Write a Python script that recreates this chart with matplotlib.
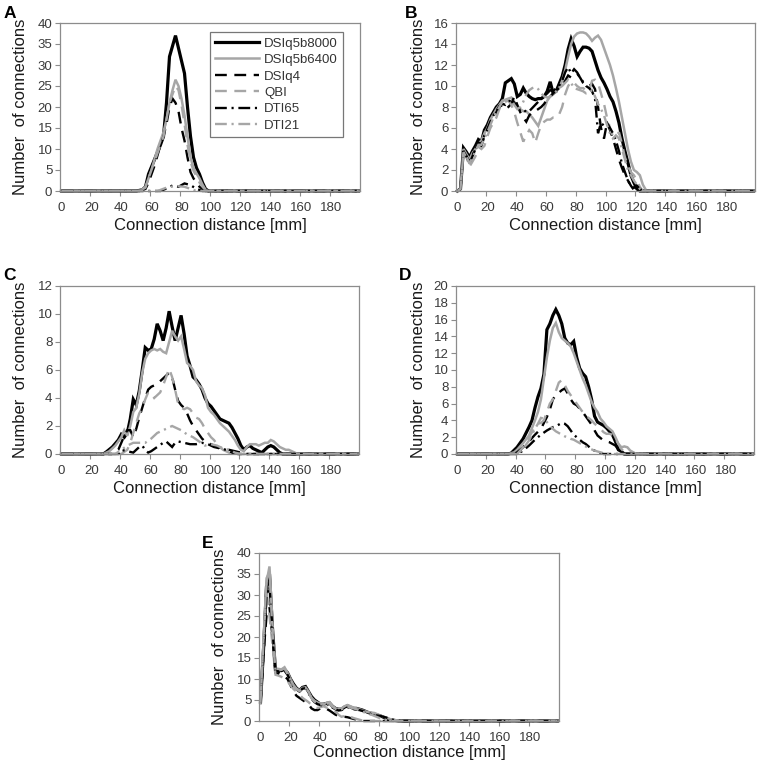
import matplotlib
matplotlib.use("Agg")
import matplotlib.pyplot as plt
import numpy as np

plt.rcParams['font.family'] = ['Liberation Sans', 'DejaVu Sans']

series_names = ["DSIq5b8000", "DSIq5b6400", "DSIq4", "QBI", "DTI65", "DTI21"]
x_tick_labels = [0, 20, 40, 60, 80, 100, 120, 140, 160, 180]

# ---------------- Panel A ----------------
A_dsi8000 = [(0,0),(50,0),(54,0.3),(56,1),(58,4),(62,7.5),(66,11),(68,13),(70,21),(72,32),(74,34.5),(76,37),(78,34),(80,31),(82,28),(84,20),(86,13),(88,8),(90,5.5),(92,4),(94,2),(96,0.5),(98,0),(198,0)]
A_dsi6400 = [(0,0),(50,0),(54,0.3),(56,1),(60,5),(64,10),(68,14),(70,17),(72,21),(74,24),(76,26.5),(78,25),(80,22),(82,18),(84,13),(86,8),(88,5.5),(90,4.2),(92,3),(94,1.5),(96,0.3),(98,0),(198,0)]
A_dsiq4 = [(0,0),(52,0),(56,0.5),(58,2),(62,6),(66,11),(68,13),(70,16),(72,20),(74,22),(76,21),(78,19),(80,15),(82,12),(84,8),(86,4.5),(88,3),(90,2),(92,1),(94,0.5),(96,0),(198,0)]
A_qbi = [(0,0),(52,0),(56,0.8),(58,3),(62,7),(66,11),(68,13),(70,17),(72,21),(74,23),(76,25),(78,24),(80,20.5),(82,16),(84,11),(86,7),(88,4.8),(90,3.5),(92,2),(94,1),(96,0.2),(98,0),(198,0)]
A_dti65 = [(0,0),(66,0),(70,0.6),(74,1.3),(78,1),(82,1.8),(86,1.4),(90,0.5),(94,0),(198,0)]
A_dti21 = [(0,0),(64,0),(70,0.8),(76,1.2),(82,1),(86,0.5),(90,0),(198,0)]

# ---------------- Panel B ----------------
B_dsi8000 = [(0,0),(2,0.2),(4,4.1),(6,3.7),(8,3.2),(10,3.8),(12,4.3),(14,4.9),(16,4.7),(18,5.8),(20,6.3),(22,7),(24,7.5),(26,8),(28,8.3),(30,8.8),(32,10.3),(34,10.5),(36,10.7),(38,10.2),(40,9),(42,9.2),(44,9.8),(46,9.3),(48,9),(50,8.8),(52,8.7),(54,8.8),(56,8.8),(58,9),(60,9.5),(62,10.4),(64,9.3),(66,9.5),(68,10.2),(70,10.9),(72,12),(74,13.5),(76,14.5),(78,13.8),(80,12.8),(82,13.3),(84,13.7),(86,13.7),(88,13.6),(90,13.3),(92,12.4),(94,11.5),(96,10.8),(98,10.3),(100,9.7),(102,9),(104,8.5),(106,7.6),(108,6.5),(110,5),(112,3.8),(114,2.7),(116,1.5),(118,0.8),(120,0.2),(122,0),(198,0)]
B_dsi6400 = [(0,0),(2,0.2),(4,4),(6,3.5),(8,3),(10,3.6),(12,4),(14,4.5),(16,4.8),(18,5.5),(20,6),(22,6.8),(24,7.3),(26,7.8),(28,8.2),(30,8.6),(32,8.7),(34,8.8),(36,8.9),(38,8.5),(40,8),(42,7.8),(44,7.6),(46,7.6),(48,7.3),(50,7),(52,6.6),(54,6.2),(56,7),(58,7.8),(60,8.6),(62,9),(64,9.2),(66,9.5),(68,9.8),(70,10.5),(72,11.5),(74,12.8),(76,14),(78,14.7),(80,15),(82,15.1),(84,15.1),(86,15),(88,14.7),(90,14.3),(92,14.6),(94,14.8),(96,14.4),(98,13.6),(100,12.8),(102,12),(104,11),(106,9.8),(108,8.5),(110,7),(112,5.5),(114,4),(116,2.8),(118,2),(120,1.8),(122,1.5),(124,0.6),(126,0.1),(128,0),(198,0)]
B_dsiq4 = [(0,0),(2,0.2),(4,3.8),(6,3.3),(8,2.6),(10,3.3),(12,4),(14,4.5),(16,4.3),(18,5.2),(20,5.8),(22,6.5),(24,7),(26,7.5),(28,8),(30,8.2),(32,7.8),(34,8),(36,8.3),(38,9),(40,8.2),(42,7.5),(44,7),(46,6.6),(48,7.2),(50,7.5),(52,7.6),(54,7.8),(56,8),(58,8.3),(60,8.8),(62,9),(64,9.3),(66,9.6),(68,9.8),(70,10),(72,10.5),(74,11),(76,10.8),(78,11.1),(80,11.2),(82,10.8),(84,10.3),(86,10),(88,10),(90,10.2),(92,9.7),(94,8),(96,6),(98,5),(100,6.5),(102,5.8),(104,5),(106,4),(108,3),(110,2.2),(112,1.5),(114,1),(116,0.5),(118,0.1),(120,0.4),(122,0.1),(124,0),(198,0)]
B_qbi = [(0,0),(2,0.2),(4,3.7),(6,3.2),(8,2.3),(10,2.8),(12,3.3),(14,4.2),(16,4),(18,4.3),(20,5.2),(22,6),(24,6.5),(26,7),(28,7.8),(30,8.3),(32,8.5),(34,8.6),(36,8.2),(38,7.5),(40,6.5),(42,5.6),(44,4.7),(46,5.3),(48,5.8),(50,5.5),(52,4.6),(54,5.5),(56,6.3),(58,6.6),(60,6.8),(62,6.8),(64,7),(66,7),(68,7.3),(70,8),(72,9.2),(74,10),(76,10.4),(78,10.3),(80,10),(82,9.8),(84,9.8),(86,9.6),(88,9.5),(90,10.5),(92,10.6),(94,10.3),(96,9.3),(98,8.3),(100,7),(102,6),(104,5.2),(106,5.2),(108,5.6),(110,4.5),(112,3.2),(114,2.5),(116,1.8),(118,1.5),(120,1),(122,0.4),(124,0),(198,0)]
B_dti65 = [(0,0),(2,0.2),(4,3.8),(6,3.3),(8,2.7),(10,3.4),(12,4),(14,4.6),(16,4.5),(18,5.3),(20,5.9),(22,6.6),(24,7.2),(26,7.6),(28,8.1),(30,8.3),(32,8.2),(34,8.4),(36,8.8),(38,8.4),(40,8),(42,7.7),(44,7.8),(46,7.5),(48,7.6),(50,7.9),(52,8.2),(54,8.5),(56,8.8),(58,9),(60,9.3),(62,9.6),(64,9.5),(66,9.8),(68,10),(70,10.5),(72,11.3),(74,11.8),(76,11.2),(78,11.6),(80,11.3),(82,10.8),(84,10.4),(86,10),(88,9.8),(90,9.5),(92,8.8),(94,5.5),(96,6.5),(98,6.2),(100,6.5),(102,6),(104,5.5),(106,4.8),(108,3.8),(110,2.6),(112,1.8),(114,1),(116,0.5),(118,0.3),(120,0.5),(122,0.2),(124,0),(198,0)]
B_dti21 = [(0,0),(2,0.2),(4,3.7),(6,3.3),(8,2.6),(10,3.2),(12,3.8),(14,4.4),(16,4.4),(18,5),(20,5.6),(22,6.3),(24,7),(26,7.5),(28,8),(30,8.5),(32,8.8),(34,8.9),(36,8.7),(38,8.2),(40,7.8),(42,8),(44,8.5),(46,9.2),(48,9.6),(50,9.8),(52,9.9),(54,9.7),(56,9.3),(58,9),(60,8.9),(62,9),(64,9.2),(66,9.5),(68,9.8),(70,10),(72,10.3),(74,10.6),(76,10.3),(78,9.8),(80,9.7),(82,9.6),(84,9.5),(86,9.3),(88,9.4),(90,9.6),(92,9),(94,8.3),(96,7.8),(98,7.2),(100,6.3),(102,5.5),(104,5),(106,5.3),(108,5),(110,4),(112,3),(114,2),(116,1.5),(118,1),(120,0.6),(122,0.2),(124,0),(198,0)]

# ---------------- Panel C ----------------
C_dsi8000 = [(0,0),(28,0),(30,0.15),(34,0.5),(38,1),(40,1.4),(42,1.2),(44,1.5),(46,2.5),(48,3.9),(50,3.5),(52,4.5),(54,6),(56,7.6),(58,7.4),(60,7.5),(62,8.2),(64,9.3),(66,8.8),(68,8.1),(70,9),(72,10.2),(74,9.1),(76,8.1),(78,9),(80,9.9),(82,8.6),(84,7),(86,6.3),(88,5.5),(90,5.3),(92,5),(94,4.6),(96,4),(98,3.6),(100,3.4),(102,3.1),(104,2.8),(106,2.5),(108,2.4),(110,2.3),(112,2.2),(114,1.9),(116,1.5),(118,1.1),(120,0.6),(122,0.3),(124,0.5),(126,0.6),(128,0.4),(130,0.3),(132,0.2),(134,0.1),(136,0.3),(138,0.5),(140,0.6),(142,0.5),(144,0.3),(146,0.1),(148,0),(198,0)]
C_dsi6400 = [(0,0),(28,0),(32,0.2),(36,0.6),(40,1.2),(42,1.7),(44,1.3),(46,2),(48,3),(50,3.3),(52,4.3),(54,5.8),(56,6.8),(58,7.2),(60,7.4),(62,7.5),(64,7.4),(66,7.5),(68,7.3),(70,7.2),(72,8),(74,8.8),(76,8.4),(78,8.1),(80,8.4),(82,7.5),(84,6.5),(86,6.3),(88,6),(90,5.2),(92,4.9),(94,4.7),(96,4.2),(98,3.3),(100,3),(102,2.8),(104,2.5),(106,2.2),(108,2),(110,1.8),(112,1.6),(114,1.3),(116,1),(118,0.6),(120,0.3),(122,0.2),(124,0.5),(126,0.7),(128,0.7),(130,0.7),(132,0.6),(134,0.7),(136,0.8),(138,0.8),(140,1),(142,0.9),(144,0.7),(146,0.5),(148,0.4),(150,0.3),(152,0.3),(154,0.2),(156,0.1),(158,0),(198,0)]
C_dsiq4 = [(0,0),(34,0),(38,0.3),(42,1.3),(44,1.7),(46,1.7),(48,1.2),(50,1.8),(52,2.6),(54,3.3),(56,4),(58,4.6),(60,4.8),(62,4.9),(64,5),(66,5.2),(68,5.4),(70,5.6),(72,5.8),(74,5.5),(76,4.6),(78,3.8),(80,3.5),(82,3.3),(84,2.9),(86,2.4),(88,2),(90,1.7),(92,1.4),(94,1.1),(96,0.9),(98,0.8),(100,0.7),(104,0.5),(108,0.4),(112,0.3),(116,0.2),(120,0.1),(124,0),(198,0)]
C_qbi = [(0,0),(40,0),(44,0.3),(46,0.8),(48,1.5),(50,2.2),(52,2.9),(54,3.3),(56,3.9),(58,4.4),(60,4.3),(62,4),(64,4.2),(66,4.4),(68,4.9),(70,5.5),(72,6.1),(74,5.5),(76,4.6),(78,3.6),(80,3.3),(82,3.2),(84,3.3),(86,3.2),(88,2.9),(90,2.6),(92,2.5),(94,2.2),(96,1.8),(98,1.5),(100,1.2),(102,1),(104,0.7),(106,0.5),(108,0.3),(110,0.2),(112,0.1),(114,0),(198,0)]
C_dti65 = [(0,0),(38,0),(40,0.3),(44,0.2),(48,0.1),(52,0.5),(54,0.6),(56,0.3),(58,0.1),(60,0.2),(64,0.5),(68,0.8),(70,0.9),(72,0.7),(74,0.5),(76,0.8),(78,0.9),(82,0.8),(86,0.7),(90,0.7),(94,0.8),(98,0.7),(102,0.5),(106,0.4),(110,0.3),(114,0.1),(118,0),(198,0)]
C_dti21 = [(0,0),(36,0),(40,0.3),(44,0.6),(48,0.8),(52,0.8),(56,0.8),(60,1.1),(64,1.5),(68,1.7),(72,1.9),(74,2),(76,1.9),(80,1.7),(84,1.4),(88,1.2),(92,0.9),(96,0.6),(100,0.7),(104,0.6),(108,0.4),(112,0.3),(116,0.1),(120,0),(198,0)]

# ---------------- Panel D ----------------
D_dsi8000 = [(0,0),(34,0),(36,0.1),(40,0.8),(42,1.3),(44,1.8),(46,2.5),(48,3.2),(50,4),(52,5.5),(54,6.8),(56,7.8),(58,9.5),(60,14.8),(62,15.5),(64,16.5),(66,17.2),(68,16.5),(70,15.5),(72,13.8),(74,13.2),(76,13),(78,13.4),(80,11.5),(82,10.2),(84,9.6),(86,9.2),(88,8),(90,6.5),(92,4.5),(94,3.8),(96,3.6),(98,3.4),(100,3.1),(102,2.7),(104,2.3),(106,1.5),(108,0.5),(110,0.3),(112,0),(198,0)]
D_dsi6400 = [(0,0),(34,0),(38,0.2),(40,0.5),(44,1.3),(48,2.2),(52,4),(54,5),(56,6.5),(58,9),(60,11.5),(62,13.5),(64,15),(66,15.6),(68,14.5),(70,13.8),(72,13.5),(74,13.2),(76,12.8),(78,12),(80,11),(82,10),(84,9),(86,8.2),(88,7.2),(90,6.2),(92,5.5),(94,5),(96,4.2),(98,3.8),(100,3.3),(102,3),(104,2.7),(106,2),(108,1.2),(110,0.8),(112,0.9),(114,0.8),(116,0.4),(118,0.2),(120,0),(198,0)]
D_dsiq4 = [(0,0),(38,0),(40,0.2),(44,0.8),(48,1.5),(52,2.3),(56,3),(58,3.7),(60,4.4),(62,5.3),(64,6.5),(66,7),(68,7.3),(70,7.6),(72,7.8),(74,7.2),(76,6.5),(78,6),(80,5.8),(82,5.4),(84,5),(86,4.5),(88,4),(90,3.5),(92,2.8),(94,2.2),(96,1.9),(98,1.6),(100,1.5),(102,1.4),(104,1.2),(106,1),(108,0.5),(110,0.1),(112,0),(198,0)]
D_qbi = [(0,0),(40,0),(44,0.8),(48,2),(52,3.2),(54,3.6),(56,3.7),(58,4),(60,5),(62,6),(64,6.5),(66,7.5),(68,8.5),(70,8.8),(72,8.2),(74,7.5),(76,7),(78,6.5),(80,6),(82,5.5),(84,5),(86,4.6),(88,4.3),(90,4),(92,3.6),(94,3.3),(96,3),(98,2.6),(100,2.4),(102,2.4),(104,2.3),(106,1.8),(108,1.2),(110,0.6),(112,0.2),(114,0),(198,0)]
D_dti65 = [(0,0),(40,0),(44,0.4),(48,1),(52,1.7),(56,2.3),(60,2.8),(64,3.2),(66,3.3),(68,3.5),(70,3.7),(72,3.6),(74,3.3),(76,2.8),(78,2.3),(80,2),(82,1.7),(84,1.4),(86,1.2),(88,0.9),(90,0.6),(92,0.4),(94,0.2),(96,0.1),(98,0),(198,0)]
D_dti21 = [(0,0),(40,0),(44,0.6),(48,1.6),(52,3),(54,3.6),(56,4.3),(58,4.2),(60,3.8),(62,3.4),(64,3),(66,2.7),(68,2.5),(70,2.3),(72,2.1),(74,2),(76,1.8),(78,1.7),(80,1.5),(84,1.1),(88,0.7),(92,0.4),(96,0.2),(100,0),(198,0)]

# ---------------- Panel E ----------------
E_dsi8000 = [(0,4.5),(2,17),(4,32),(6,35),(8,22),(10,12),(12,12),(14,12),(16,12.3),(18,11.5),(20,10),(22,8.8),(24,7.8),(26,7.3),(28,8),(30,8.2),(32,7),(34,5.8),(36,5),(38,4.5),(40,4),(42,4),(44,4.2),(46,4.3),(48,3.5),(50,3),(52,2.8),(54,2.8),(56,3.3),(58,3.6),(60,3.3),(62,3),(64,3),(66,2.8),(68,2.6),(70,2.3),(72,2),(74,1.8),(76,1.6),(78,1.4),(80,1.2),(82,0.9),(84,0.6),(86,0.3),(88,0.2),(90,0.1),(92,0),(198,0)]
E_dsi6400 = [(0,4.5),(2,18),(4,33),(6,36.8),(8,23),(10,12.5),(12,12.4),(14,12.3),(16,12.8),(18,11.5),(20,10),(22,8.5),(24,7.7),(26,7.3),(28,7.9),(30,8),(32,7),(34,5.5),(36,4.8),(38,4.4),(40,4.2),(42,4),(44,4.3),(46,4.5),(48,3.6),(50,3),(52,2.8),(54,3),(56,3.5),(58,3.8),(60,3.5),(62,3.2),(64,3),(66,2.8),(68,2.5),(70,2.3),(72,2.1),(74,2),(76,1.9),(78,1.6),(80,1.3),(82,1),(84,0.8),(86,0.5),(88,0.3),(90,0.2),(92,0.1),(94,0),(198,0)]
E_dsiq4 = [(0,4),(2,16),(4,25),(6,27),(8,20),(10,11.5),(12,11.2),(14,11),(16,10.6),(18,10),(20,8.5),(22,7),(24,6),(26,5.5),(28,5),(30,4.5),(32,4),(34,3),(36,2.6),(38,2.6),(40,3),(42,3.2),(44,2.9),(46,2.5),(48,2),(50,1.5),(52,1.2),(54,1),(56,1),(58,0.9),(60,0.7),(62,0.5),(64,0.3),(66,0.1),(68,0),(198,0)]
E_qbi = [(0,4),(2,20),(4,31),(6,25),(8,18),(10,11),(12,10.8),(14,10.5),(16,10.2),(18,9.5),(20,8.5),(22,7.6),(24,7),(26,6.3),(28,5.5),(30,5),(32,4.5),(34,3.8),(36,3.3),(38,3.1),(40,3.3),(42,3.5),(44,3.2),(46,3),(48,2.7),(50,2.3),(52,1.5),(54,1),(56,1.2),(58,1.4),(60,1),(62,0.7),(64,0.5),(66,0.3),(68,0.1),(70,0),(198,0)]
E_dti65 = [(0,4.5),(2,16),(4,30),(6,32),(8,22),(10,11.8),(12,11.6),(14,11.8),(16,12),(18,11),(20,9.6),(22,8.3),(24,7.5),(26,7),(28,7.7),(30,7.8),(32,6.7),(34,5.3),(36,4.5),(38,4),(40,3.8),(42,3.7),(44,3.9),(46,4),(48,3.2),(50,2.8),(52,2.5),(54,2.6),(56,3),(58,3.3),(60,3),(62,2.8),(64,2.7),(66,2.6),(68,2.4),(70,2.1),(72,1.9),(74,1.6),(76,1.4),(78,1.3),(80,1.2),(82,1),(84,0.8),(86,0.5),(88,0.3),(90,0.2),(92,0.1),(94,0),(198,0)]
E_dti21 = [(0,4.5),(2,19),(4,34),(6,35.5),(8,21),(10,12),(12,12),(14,12.2),(16,12.5),(18,11.2),(20,9.8),(22,8.5),(24,7.6),(26,7.1),(28,7.8),(30,7.9),(32,6.8),(34,5.4),(36,4.6),(38,4.2),(40,4),(42,3.9),(44,4.1),(46,4.2),(48,3.4),(50,2.9),(52,2.6),(54,2.8),(56,3.2),(58,3.4),(60,3.2),(62,3),(64,2.8),(66,2.5),(68,2.2),(70,2),(72,1.7),(74,1.5),(76,1.2),(78,0.9),(80,0.6),(82,0.4),(84,0.2),(86,0.1),(88,0),(198,0)]

panels = {
    "A": [A_dsi8000, A_dsi6400, A_dsiq4, A_qbi, A_dti65, A_dti21],
    "B": [B_dsi8000, B_dsi6400, B_dsiq4, B_qbi, B_dti65, B_dti21],
    "C": [C_dsi8000, C_dsi6400, C_dsiq4, C_qbi, C_dti65, C_dti21],
    "D": [D_dsi8000, D_dsi6400, D_dsiq4, D_qbi, D_dti65, D_dti21],
    "E": [E_dsi8000, E_dsi6400, E_dsiq4, E_qbi, E_dti65, E_dti21],
}
y_max = {"A": 40, "B": 16, "C": 12, "D": 20, "E": 40}
y_step = {"A": 5, "B": 2, "C": 2, "D": 2, "E": 5}

GRAY = "#a6a6a6"
styles = [
    dict(color="black", lw=2.3, ls="-"),
    dict(color=GRAY, lw=1.8, ls="-"),
    dict(color="black", lw=1.7, dashes=(5.0, 3.2)),
    dict(color=GRAY, lw=1.7, dashes=(5.0, 3.2)),
    dict(color="black", lw=1.7, dashes=(5.0, 2.0, 0.9, 2.0)),
    dict(color=GRAY, lw=1.7, dashes=(5.0, 2.0, 0.9, 2.0)),
]

W, H = 760, 769
fig = plt.figure(figsize=(W / 100, H / 100), dpi=100)

# axes rectangles in pixels: left, top, right, bottom
rects = {
    "A": (60, 23, 360, 191),
    "B": (456, 23, 755, 191),
    "C": (60, 286, 359, 454),
    "D": (456, 286, 754, 454),
    "E": (259, 553, 559, 721),
}
letter_pos = {"A": (10, 13), "B": (411, 13), "C": (10, 276), "D": (405, 276), "E": (208, 543)}
ylabel_x = {"A": 21, "B": 418, "C": 21, "D": 418, "E": 220}
xlabel_pad = {"A": 3, "B": 3, "C": 3, "D": 3, "E": 0.5}

SPINE = "#8c8c8c"
TICKC = "#3a3a3a"

axes = {}
for key, (l, t, r, b) in rects.items():
    ax = fig.add_axes([l / W, 1 - b / H, (r - l) / W, (b - t) / H])
    axes[key] = ax
    for s, st in zip(panels[key], styles):
        xs = [p[0] for p in s]
        ys = [p[1] for p in s]
        kw = dict(color=st["color"], lw=st["lw"], solid_joinstyle="miter",
                  dash_joinstyle="miter", dash_capstyle="butt", clip_on=False)
        if "dashes" in st:
            kw["dashes"] = st["dashes"]
        ax.plot(xs, ys, **kw)
    ax.set_xlim(-1, 199)
    ax.set_ylim(0, y_max[key])
    ax.set_xticks(x_tick_labels)
    ax.set_xticklabels([str(v) for v in x_tick_labels])
    ax.set_xticks(np.arange(19, 199, 20), minor=True)
    ax.tick_params(axis="x", which="major", length=0, pad=8, labelsize=9.5, labelcolor=TICKC)
    ax.tick_params(axis="x", which="minor", length=3.5, width=0.8, color=SPINE, direction="out")
    ax.set_yticks(np.arange(0, y_max[key] + 0.01, y_step[key]))
    ax.tick_params(axis="y", length=3.5, width=0.8, color=SPINE, direction="out",
                   labelsize=9.5, labelcolor=TICKC, pad=2)
    for sp in ax.spines.values():
        sp.set_color(SPINE)
        sp.set_linewidth(0.9)
    ax.set_xlabel("Connection distance [mm]", fontsize=12, color="#1a1a1a",
                  labelpad=xlabel_pad[key])
    fig.text(ylabel_x[key] / W, 1 - ((t + b) / 2) / H, "Number  of connections",
             rotation=90, ha="center", va="center", fontsize=12, color="#1a1a1a")
    lx, ly = letter_pos[key]
    fig.text(lx / W, 1 - ly / H, key, ha="center", va="center",
             fontsize=12.5, fontweight="bold", color="black")

# legend in panel A
axA = axes["A"]
handles = axA.get_lines()
leg = axA.legend(handles, series_names, loc="upper left", bbox_to_anchor=(0.5, 0.946),
                 borderaxespad=0, fontsize=9.5, handlelength=3.3, handletextpad=0.4,
                 labelspacing=0.32, frameon=True, fancybox=False, borderpad=0.4,
                 edgecolor="#555555")
leg.get_frame().set_linewidth(0.9)
for txt in leg.get_texts():
    txt.set_color("#333333")

fig.savefig("out.png", dpi=100, facecolor="white")
